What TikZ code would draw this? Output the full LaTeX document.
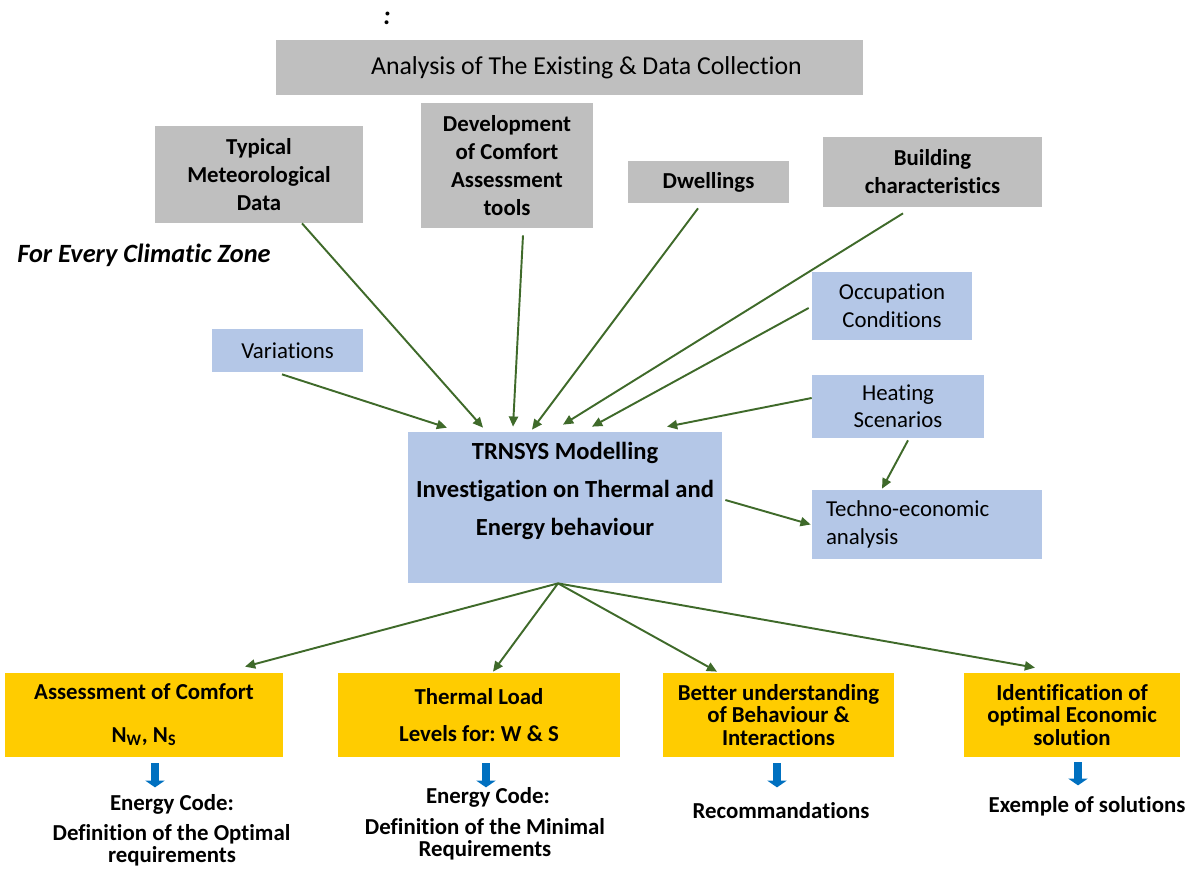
\documentclass[tikz,border=0pt]{standalone}
\usepackage{fontspec}
\setmainfont{Carlito}[Ligatures=NoCommon]
\usetikzlibrary{arrows.meta,calc}
\newlength\pxl
\setlength\pxl{0.02cm}
\newcommand\fsz[2]{\fontsize{#1}{#2}\selectfont}
\setlength\lineskiplimit{-\maxdimen}
\frenchspacing
\definecolor{boxgray}{HTML}{BFBFBF}
\definecolor{boxblue}{HTML}{B4C7E7}
\definecolor{boxyellow}{HTML}{FFCC00}
\definecolor{linkgreen}{HTML}{3F6A2A}
\definecolor{dropblue}{HTML}{0070C0}
\begin{document}
\begin{tikzpicture}[x=0.02cm,y=-0.02cm,
  panel/.style={inner sep=0pt, align=center},
  gpanel/.style={panel, fill=boxgray},
  bpanel/.style={panel, fill=boxblue},
  ypanel/.style={panel, fill=boxyellow},
  boldtext/.style={font=\bfseries\fsz{13}{15.9}},
  plaintext/.style={font=\fsz{13}{15.9}},
  link/.style={draw=linkgreen, line width=1.1pt, -{Triangle[length=5.8pt,width=5.2pt]}},
  drop/.style={draw=dropblue, line width=5pt, -{Triangle[length=3.8pt,width=10.8pt]}},
  note/.style={inner sep=0pt, text height=8pt, text depth=2pt, font=\bfseries\fsz{13}{15.9}}]
\useasboundingbox (0,0) rectangle (1192,868);

% heading
\node[inner sep=0pt, font=\bfseries\itshape\fsz{15}{18}] (colon) at (387,18) {:};
\node[gpanel, minimum width=587\pxl, minimum height=55\pxl, font=\fsz{14.7}{18}] (title) at (569.5,67.5)
  {\hspace*{34\pxl}Analysis of The Existing \& Data Collection};

% data sources
\node[gpanel, boldtext, minimum width=208\pxl, minimum height=97\pxl] (typ) at (259,174.5)
  {Typical\\Meteorological\\Data};
\node[gpanel, boldtext, minimum width=172\pxl, minimum height=125\pxl] (dev) at (507,165.5)
  {Development\\of Comfort\\Assessment\\tools};
\node[gpanel, boldtext, minimum width=161\pxl, minimum height=42\pxl] (dwe) at (708.5,182)
  {Dwellings};
\node[gpanel, boldtext, minimum width=219\pxl, minimum height=70\pxl] (bld) at (932.5,172)
  {Building\\characteristics};

\node[anchor=west, inner sep=0pt, font=\bfseries\itshape\fsz{15}{18}] (zone) at (17,255)
  {For Every Climatic Zone};

% inputs
\node[bpanel, plaintext, minimum width=151\pxl, minimum height=43\pxl] (var) at (287.5,350.5)
  {Variations};
\node[bpanel, plaintext, minimum width=160\pxl, minimum height=68\pxl] (occ) at (892,306)
  {Occupation\\Conditions};
\node[bpanel, font=\fsz{13}{15.3}, minimum width=172\pxl, minimum height=63\pxl] (heat) at (898,406.5)
  {Heating\\Scenarios};

% model
\node[bpanel, minimum width=314\pxl, minimum height=151\pxl] (trn) at (565,507.5) {};
\node[inner sep=0pt, align=center, font=\bfseries\fsz{14}{21.5}] (trntext) at (565,491)
  {TRNSYS Modelling\\Investigation on Thermal and\\Energy behaviour};
\node[bpanel, align=left, plaintext, inner xsep=14\pxl, text width=202\pxl, minimum height=69\pxl] (tec) at (927,524.5)
  {Techno-economic\\analysis};

% outcomes
\node[ypanel, font=\bfseries\fsz{13}{24.4}, minimum width=278\pxl, minimum height=84\pxl] (ass) at (144,715)
  {Assessment of Comfort\\N\textsubscript{W}, N\textsubscript{S}};
\node[ypanel, font=\bfseries\fsz{13}{21.5}, minimum width=282\pxl, minimum height=84\pxl] (thl) at (479,715)
  {Thermal Load\\Levels for: W \& S};
\node[ypanel, font=\bfseries\fsz{13}{12.8}, minimum width=231\pxl, minimum height=84\pxl] (bet) at (778.5,715)
  {Better understanding\\of Behaviour \&\\Interactions};
\node[ypanel, font=\bfseries\fsz{13}{12.8}, minimum width=216\pxl, minimum height=84\pxl] (idn) at (1072,715)
  {Identification of\\optimal Economic\\solution};

% results
\node[note] (assr1) at (172,805) {Energy Code:};
\node[note] (assr2) at (171.5,835) {Definition of the Optimal};
\node[note] (assr3) at (172,857) {requirements};
\node[note] (thlr1) at (488,798) {Energy Code:};
\node[note] (thlr2) at (485,829) {Definition of the Minimal};
\node[note] (thlr3) at (485,851) {Requirements};
\node[note] (betr) at (781,813) {Recommandations};
\node[note] (idnr) at (1087,807) {Exemple of solutions};

% block arrows towards the results
\draw[drop] ($(ass.south)+(11,6)$) -- ($(ass.south)+(11,30)$);
\draw[drop] ($(thl.south)+(7,6)$) -- ($(thl.south)+(7,30)$);
\draw[drop] ($(bet.south)+(-1.5,6)$) -- ($(bet.south)+(-1.5,30)$);
\draw[drop] ($(idn.south)+(6,5)$) -- ($(idn.south)+(6,28)$);

% connectors into the model
\draw[link] ($(typ.south)+(43,0)$) -- ($(trn.north)+(-82,-4)$);
\draw[link] ($(dev.south)+(16,7)$) -- ($(trn.north)+(-52,-5)$);
\draw[link] ($(dwe.south)+(-10.5,5)$) -- ($(trn.north)+(-33,-2)$);
\draw[link] ($(bld.south)+(-29.5,6)$) -- ($(trn.north)+(-2,-7)$);
\draw[link] ($(occ.west)+(-3,2)$) -- ($(trn.north)+(27,-5)$);
\draw[link] ($(var.south)+(-5.5,2)$) -- ($(trn.north)+(-118,-4)$);
\draw[link] ($(heat.west)+(0,-8.5)$) -- ($(trn.north)+(102,-5)$);
\draw[link] ($(heat.south)+(10,2)$) -- ($(tec.north)+(-45,-1)$);
\draw[link] ($(trn.east)+(3,-7.5)$) -- ($(tec.west)+(-1,0)$);

% connectors out of the model
\draw[link] ($(trn.south)+(-7,0)$) -- ($(ass.north)+(101,-6)$);
\draw[link] ($(trn.south)+(-7,0)$) -- ($(thl.north)+(14,-1)$);
\draw[link] ($(trn.south)+(-7,0)$) -- ($(bet.north)+(-61.5,-1)$);
\draw[link] ($(trn.south)+(-7,0)$) -- ($(idn.north)+(-37,-5)$);
\end{tikzpicture}
\end{document}
